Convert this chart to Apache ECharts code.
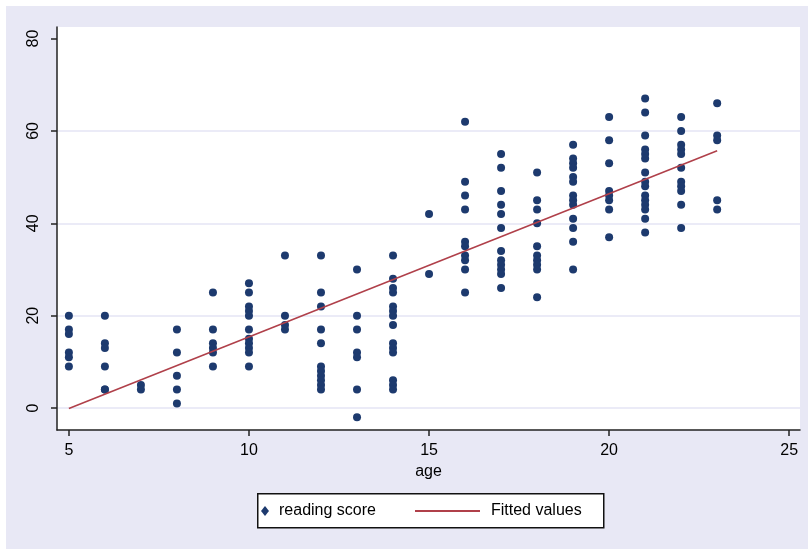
<!DOCTYPE html>
<html><head><meta charset="utf-8">
<script src="https://cdn.jsdelivr.net/npm/echarts@6/dist/echarts.min.js"></script>
<style>
html,body{margin:0;padding:0;background:#fff;}
#bg{position:absolute;left:6px;top:6px;width:802px;height:543px;background:#E8E8F5;}
#c{position:absolute;left:0;top:0;width:808px;height:549px;}
</style></head><body>
<div id="bg"></div><div id="c"></div>
<script>
// age values (x) and reading scores observed at each age
const ages = [5, 6, 7, 8, 9, 10, 11, 12, 13, 14, 15, 16, 17, 18, 19, 20, 21, 22, 23];
const scoresByAge = [
  [20, 17, 16, 12, 11, 9],
  [20, 14, 13, 9, 4, 4],
  [5, 4],
  [17, 12, 7, 4, 1],
  [25, 17, 14, 13, 12, 9],
  [27, 25, 22, 21, 20, 17, 15, 14, 13, 12, 9],
  [33, 20, 18, 17],
  [33, 25, 22, 17, 14, 9, 8, 7, 6, 5, 4],
  [30, 20, 17, 12, 11, 4, -2],
  [33, 28, 26, 25, 22, 21, 20, 18, 14, 13, 12, 6, 5, 4],
  [42, 29],
  [62, 49, 46, 43, 36, 35, 33, 32, 30, 25],
  [55, 52, 47, 44, 42, 39, 34, 32, 31, 30, 29, 26],
  [51, 45, 43, 40, 35, 33, 32, 31, 30, 24],
  [57, 54, 53, 52, 50, 49, 46, 45, 44, 41, 39, 36, 30],
  [63, 58, 53, 47, 46, 45, 43, 37],
  [67, 64, 59, 56, 55, 54, 51, 49, 48, 46, 45, 44, 43, 41, 38],
  [63, 60, 57, 56, 55, 52, 49, 48, 47, 44, 39],
  [66, 59, 58, 45, 43]
];
// fitted regression line endpoints
const fittedAge = [5, 23];
const fittedScore = [-0.1, 55.7];
// axis ticks
const xTicks = [5, 10, 15, 20, 25];
const yTicks = [0, 20, 40, 60, 80];

const scatterData = [];
ages.forEach((a, i) => scoresByAge[i].forEach(s => scatterData.push([a, s])));
const lineData = fittedAge.map((a, i) => [a, fittedScore[i]]);

const FONT = "'Liberation Sans', Arial, sans-serif";
const chart = echarts.init(document.getElementById('c'), null, {renderer: 'canvas'});
chart.setOption({
  animation: false,
  textStyle: {fontFamily: FONT},
  grid: {left: 57, right: 8, top: 27, bottom: 119, show: true, backgroundColor: '#fff', borderWidth: 0},
  xAxis: {
    type: 'value', min: 4.67, max: 25.3,
    name: 'age', nameLocation: 'middle', nameGap: 29,
    nameTextStyle: {color: '#000', fontSize: 16, fontFamily: FONT},
    axisLine: {show: true, onZero: false, lineStyle: {color: '#222', width: 1.5}},
    axisTick: {show: true, customValues: xTicks, length: 6, lineStyle: {color: '#222', width: 1.5}},
    axisLabel: {customValues: xTicks, margin: 13, color: '#000', fontSize: 16, fontFamily: FONT},
    splitLine: {show: false}
  },
  yAxis: {
    type: 'value', min: -4.76, max: 82.5,
    axisLine: {show: true, onZero: false, lineStyle: {color: '#222', width: 1.5}},
    axisTick: {show: true, customValues: yTicks, length: 6, lineStyle: {color: '#222', width: 1.5}},
    axisLabel: {customValues: yTicks, rotate: 90, margin: 15, color: '#000', fontSize: 16, fontFamily: FONT},
    splitLine: {show: true, lineStyle: {color: ['#E4E4F4', '#E4E4F4', '#E4E4F4', '#E4E4F4', 'rgba(0,0,0,0)'], width: 1.5}}
  },
  legend: [
    {
      data: [{name: 'reading score', icon: 'diamond'}],
      left: 261, top: 503, itemWidth: 8, itemHeight: 10, padding: 0,
      textStyle: {color: '#000', fontSize: 16, fontFamily: FONT, padding: [0, 0, 0, 5]}
    },
    {
      data: [{name: 'Fitted values', icon: 'rect'}],
      left: 415, top: 503, itemWidth: 65, itemHeight: 2, padding: 0,
      textStyle: {color: '#000', fontSize: 16, fontFamily: FONT, padding: [0, 0, 0, 6]}
    }
  ],
  graphic: [{
    type: 'rect', left: 257, top: 493, z: -1, silent: true,
    shape: {width: 346, height: 34},
    style: {fill: '#fff', stroke: '#111', lineWidth: 1.5}
  }],
  series: [
    {
      name: 'reading score', type: 'scatter', data: scatterData,
      symbol: 'circle', symbolSize: 8,
      itemStyle: {color: '#1D3A6E', opacity: 1}
    },
    {
      name: 'Fitted values', type: 'line', data: lineData,
      symbol: 'none', lineStyle: {color: '#B0404A', width: 1.6},
      itemStyle: {color: '#B0404A'}
    }
  ]
});
</script>
</body></html>
